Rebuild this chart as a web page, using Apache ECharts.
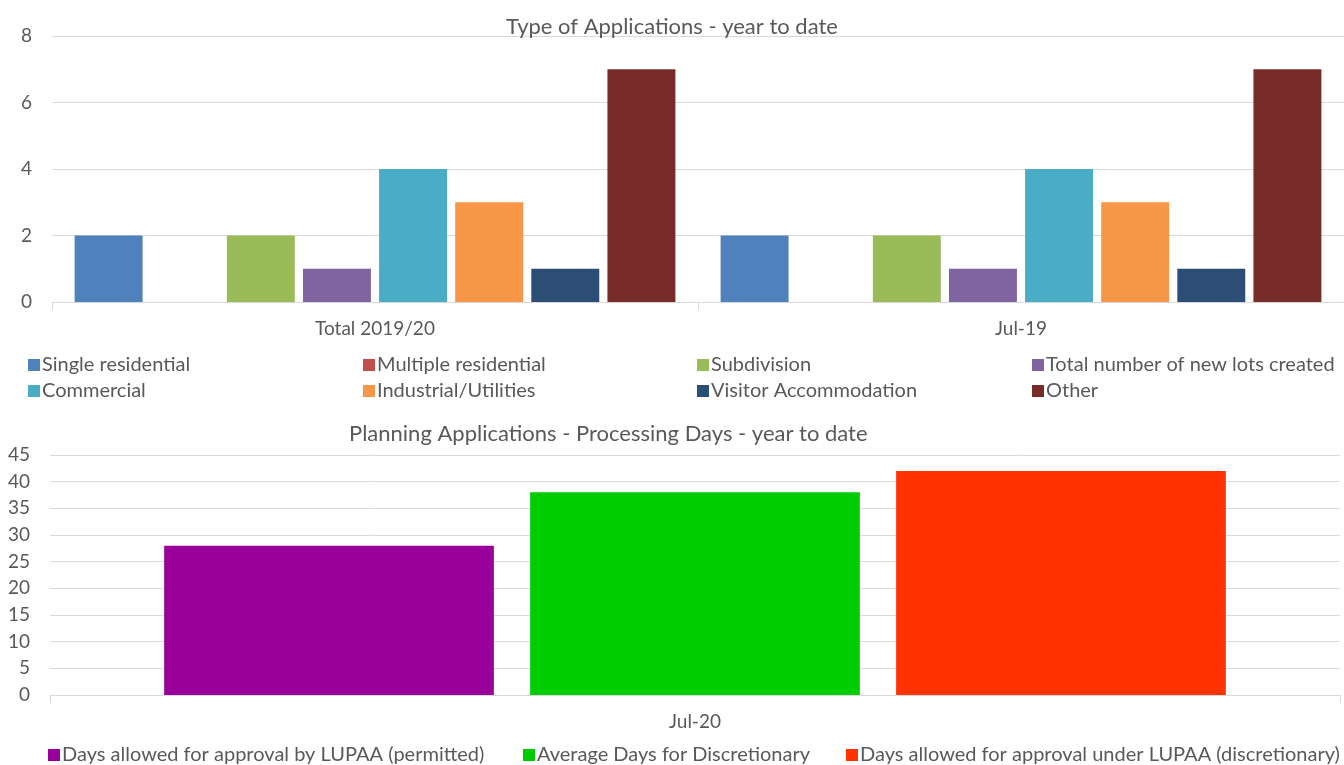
<!DOCTYPE html>
<html><head><meta charset="utf-8">
<script src="https://cdn.jsdelivr.net/npm/echarts@6/dist/echarts.min.js"></script>
<style>html,body{margin:0;padding:0;background:#fff}#c{width:1344px;height:765px}</style>
</head><body><div id="c"></div>
<script>
const typeCategories = ['Total 2019/20', 'Jul-19'];
const typeSeriesNames = ['Single residential','Multiple residential','Subdivision','Total number of new lots created','Commercial','Industrial/Utilities','Visitor Accommodation','Other'];
const singleResidential = [2, 2];
const multipleResidential = [0, 0];
const subdivision = [2, 2];
const newLots = [1, 1];
const commercial = [4, 4];
const industrial = [3, 3];
const visitorAccommodation = [1, 1];
const other = [7, 7];
const typeValues = [singleResidential, multipleResidential, subdivision, newLots, commercial, industrial, visitorAccommodation, other];
const typeColors = ['#4f81bd','#c0504d','#9bbb59','#8064a2','#4bacc6','#f79646','#2c4d75','#772c2a'];
const typeTicks = [0, 2, 4, 6, 8];

const daysCategories = ['Jul-20'];
const daysSeriesNames = ['Days allowed for approval by LUPAA (permitted)','Average Days for Discretionary','Days allowed for approval under LUPAA (discretionary)'];
const daysPermitted = [28];
const daysAverageDiscretionary = [38];
const daysDiscretionary = [42];
const daysValues = [daysPermitted, daysAverageDiscretionary, daysDiscretionary];
const daysColors = ['#990099','#00cc00','#ff3300'];
const daysTicks = [0,5,10,15,20,25,30,35,40,45];

const FONT = 'Lato';
const TXT = '#595959';
const chart = echarts.init(document.getElementById('c'));

const series = [];
typeSeriesNames.forEach((n,i)=>series.push({
  name:n, type:'bar', xAxisIndex:0, yAxisIndex:0, data:typeValues[i],
  itemStyle:{color:typeColors[i]}, barCategoryGap:'7%', barGap:'12%'
}));
daysSeriesNames.forEach((n,i)=>series.push({
  name:n, type:'bar', xAxisIndex:1, yAxisIndex:1, data:daysValues[i],
  itemStyle:{color:daysColors[i]}, barCategoryGap:'17.7%', barGap:'11%'
}));

const legendPos1 = [[28,355],[363,355],[697,355],[1032,355],[28,381],[363,381],[697,381],[1032,381]];
const legendPos2 = [[48,745],[523,745],[846,745]];
const legends = [];
const legendText = {fontFamily:FONT,fontSize:20,color:TXT,padding:[0,0,0,-3]};
typeSeriesNames.forEach((n,i)=>legends.push({
  data:[n], left:legendPos1[i][0], top:legendPos1[i][1], itemWidth:12, itemHeight:12, itemGap:0,
  icon:'rect', padding:0, selectedMode:false, textStyle:legendText
}));
daysSeriesNames.forEach((n,i)=>legends.push({
  data:[n], left:legendPos2[i][0], top:legendPos2[i][1], itemWidth:12, itemHeight:12, itemGap:0,
  icon:'rect', padding:0, selectedMode:false, textStyle:legendText
}));

const yAxisCommon = {
  type:'value', axisLine:{show:false}, axisTick:{show:false},
  splitLine:{lineStyle:{color:'#d9d9d9'}},
  axisLabel:{fontFamily:FONT,fontSize:19,color:TXT,margin:20}
};
const xAxisCommon = {
  type:'category',
  axisLine:{lineStyle:{color:'#d9d9d9'}},
  axisTick:{show:true,length:8,lineStyle:{color:'#d9d9d9'}},
  axisLabel:{fontFamily:FONT,fontSize:19,color:TXT,margin:17}
};

chart.setOption({
  animation:false,
  title:[
    {text:'Type of Applications - year to date', left:'center', top:11,
     textStyle:{fontFamily:FONT,fontSize:22,fontWeight:'normal',color:TXT}},
    {text:'Planning Applications - Processing Days - year to date', left:344, top:418,
     textStyle:{fontFamily:FONT,fontSize:22,fontWeight:'normal',color:TXT}}
  ],
  legend:legends,
  grid:[
    {left:52, right:0, top:36, height:266},
    {left:50, right:4, top:455, height:240}
  ],
  xAxis:[
    Object.assign({}, xAxisCommon, {gridIndex:0, data:typeCategories}),
    Object.assign({}, xAxisCommon, {gridIndex:1, data:daysCategories})
  ],
  yAxis:[
    Object.assign({}, yAxisCommon, {gridIndex:0, min:typeTicks[0], max:typeTicks[typeTicks.length-1], interval:2}),
    Object.assign({}, yAxisCommon, {gridIndex:1, min:daysTicks[0], max:daysTicks[daysTicks.length-1], interval:5})
  ],
  series:series
});
</script></body></html>
